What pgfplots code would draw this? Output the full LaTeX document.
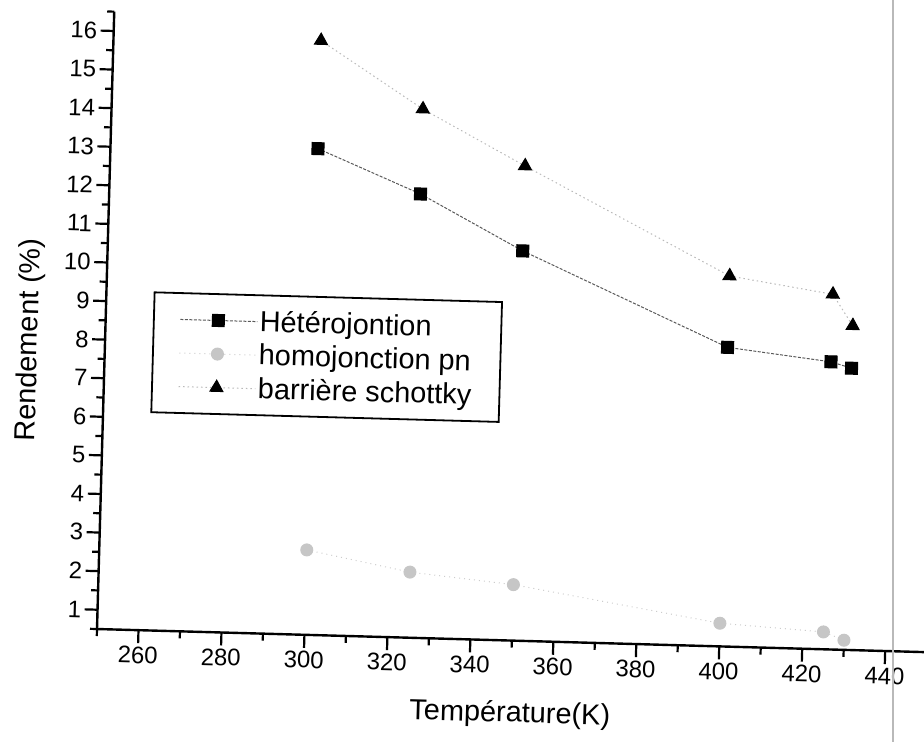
\documentclass[border=0pt]{standalone}
\usepackage{fontspec}
\setmainfont{Liberation Sans}
\usepackage{pgfplots}
\pgfplotsset{compat=1.18}

\begin{document}
\begin{tikzpicture}[x=1bp,y=1bp]
\useasboundingbox (0,-742) rectangle (924,0);
% the scanned figure is tilted a little, so the whole axis is turned
\begin{scope}[rotate around={-1.6:(97,-629)}, transform shape]
\begin{axis}[
  at={(97bp,-629bp)}, anchor=south west,
  scale only axis, width=830bp, height=617.6bp,
  xmin=250, xmax=450, ymin=0.5, ymax=16.5,
  axis x line*=bottom, axis y line*=left,
  axis line style={line width=2.4bp},
  tick align=outside,
  major tick length=13bp, minor tick length=7bp,
  every major tick/.append style={black, line width=2.2bp},
  every minor tick/.append style={black, line width=2.2bp},
  xtick={260,280,...,440}, minor xtick={250,270,...,450},
  ytick={1,...,16}, minor ytick={0.5,1.5,...,16.5},
  tick label style={font=\fontsize{24}{28}\selectfont},
  /pgf/number format/assume math mode=true,
  xlabel={Température(K)}, ylabel={Rendement (\%)},
  label style={font=\fontsize{29}{34}\selectfont},
  xlabel style={at={(axis description cs:0.5,-0.132)}, anchor=base},
  ylabel style={at={(axis description cs:-0.07,0.465)}, anchor=south},
  legend style={at={(0.057,0.549)}, anchor=north west, draw=black,
    line width=1.8bp, fill=white, font=\fontsize{29}{34}\selectfont,
    inner xsep=26bp, inner ysep=13bp, row sep=7bp, cells={anchor=west}},
  legend image code/.code={\draw[mark repeat=2,mark phase=2,#1]
    plot coordinates {(0bp,0bp) (38bp,0bp) (77bp,0bp)};},
]
\addplot[gray!70!black, line width=1bp, dash pattern=on 3bp off 1.5bp,
  mark=square*, mark size=6bp, mark options={solid, fill=black, draw=black}]
  coordinates {(300,13.1) (325,12.0) (350,10.6) (400,8.25) (425,7.95) (430,7.8)};
\addlegendentry{Hétérojontion}

\addplot[gray!40, line width=1bp, dash pattern=on 1bp off 4bp,
  mark=*, mark size=6bp, mark options={solid, fill=gray!45, draw=gray!45}]
  coordinates {(300,2.7) (325,2.2) (350,1.95) (400,1.1) (425,0.95) (430,0.75)};
\addlegendentry{homojonction pn}

\addplot[gray!55, line width=1bp, dash pattern=on 1.5bp off 3bp,
  mark=triangle*, mark size=7.5bp, mark options={solid, fill=black, draw=black}]
  coordinates {(300,15.9) (325,14.2) (350,12.8) (400,10.1) (425,9.7) (430,8.9)};
\addlegendentry{barrière schottky}
\end{axis}
\end{scope}
% page edge from the scan
\draw[gray!55, line width=2.5bp] (893,0) -- (893,-742);
\end{tikzpicture}
\end{document}
